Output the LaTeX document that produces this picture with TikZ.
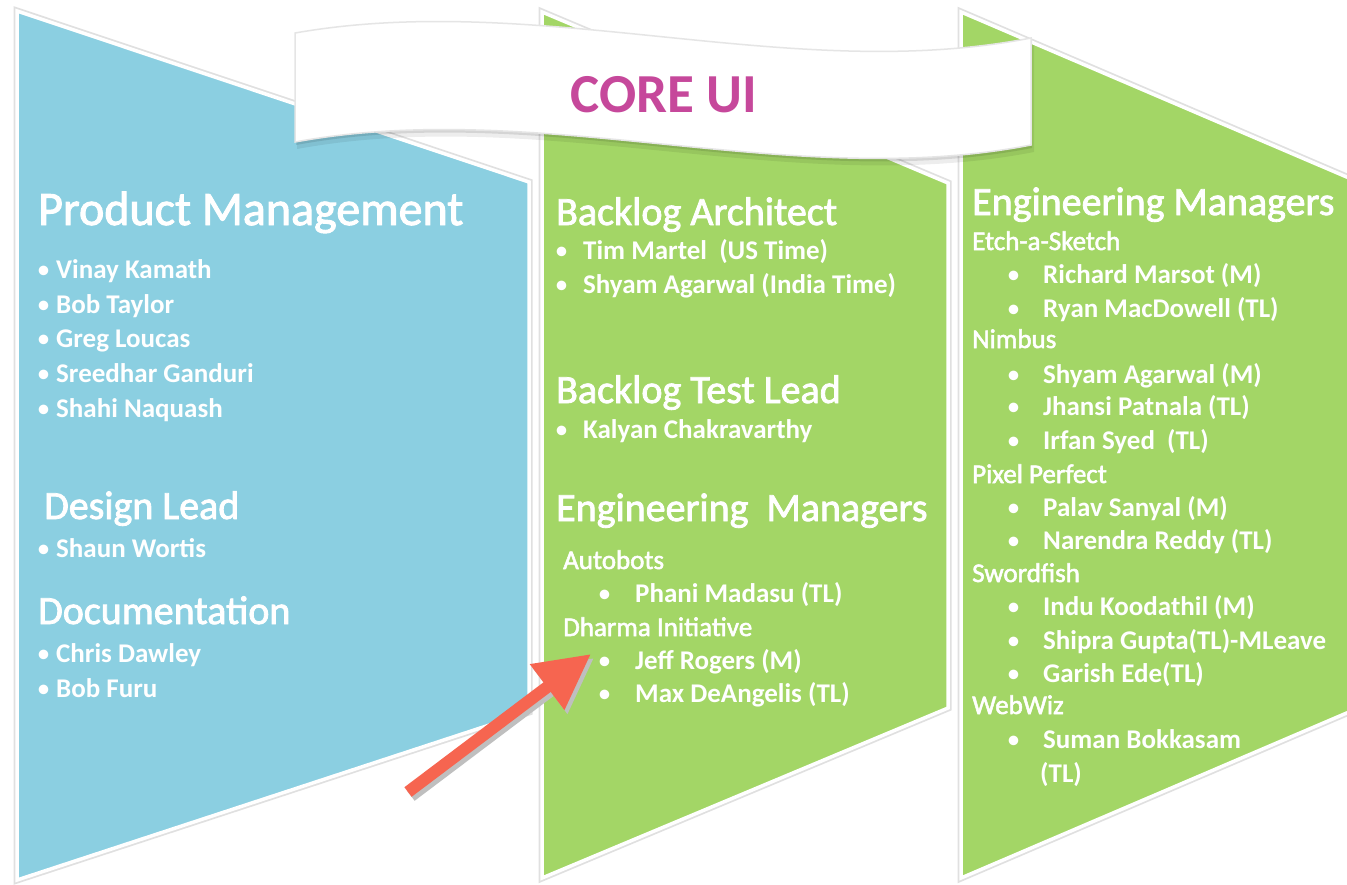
\documentclass[tikz,border=0pt]{standalone}
\usepackage{fontspec}
\setmainfont{Carlito}
\newfontface\headface{Carlito}[FakeBold=2]
\usetikzlibrary{arrows.meta}
\definecolor{panelblue}{RGB}{139,207,225}
\definecolor{panelgreen}{RGB}{163,214,102}
\definecolor{arrowred}{RGB}{246,101,80}
\definecolor{coremag}{RGB}{198,72,155}
\newcommand{\bul}[1]{\llap{{\mdseries •}\hspace{#1}}}
\begin{document}
\begin{tikzpicture}[x=1pt,y=-1pt,
  panel/.style={draw=white,line width=3.5pt,line join=miter},
  halo/.style={draw=black!12,line width=7pt,line join=miter},
  head/.style={anchor=base west,inner sep=0pt,text=white,font=\fontsize{40}{48}\headface},
  bighead/.style={head,font=\fontsize{48}{56}\headface},
  grp/.style={anchor=base west,inner sep=0pt,text=white,font=\fontsize{27}{32}\headface},
  itm/.style={anchor=base west,inner sep=0pt,text=white,font=\fontsize{27}{32}\selectfont\bfseries},
  bigarrow/.style={line width=12pt,-{Triangle[length=55pt,width=54pt]}},
]
\useasboundingbox (0,0) rectangle (1347,884);
\fill[white] (0,0) rectangle (1347,884);

% panels
\draw[halo] (17,11) -- (529,182) -- (529,712) -- (17,880) -- cycle;
\filldraw[panel,fill=panelblue] (17,11) -- (529,182) -- (529,712) -- (17,880) -- cycle;
\draw[halo] (542,12) -- (948,183) -- (948,708) -- (542,878) -- cycle;
\filldraw[panel,fill=panelgreen] (542,12) -- (948,183) -- (948,708) -- (542,878) -- cycle;
\draw[halo] (961,12) -- (1356,181) -- (1356,709) -- (961,878) -- cycle;
\filldraw[panel,fill=panelgreen] (961,12) -- (1356,181) -- (1356,709) -- (961,878) -- cycle;

% banner
\fill[black,opacity=.07] (297,40) .. controls (542,-3) and (792,92) .. (1034,45) -- (1034,152) .. controls (792,199) and (542,104) .. (297,149) -- cycle;
\fill[black,opacity=.10] (296,36) .. controls (541,-7) and (791,88) .. (1032,41) -- (1032,148) .. controls (791,195) and (541,100) .. (296,145) -- cycle;
\draw[black!10,line width=1.5pt,fill=white] (295,33) .. controls (540,-10) and (790,85) .. (1031,38) -- (1031,145) .. controls (790,192) and (540,97) .. (295,142) -- cycle;
\node[anchor=base,inner sep=0pt,text=coremag,font=\fontsize{55}{60}\selectfont\bfseries] (core) at (664,112) {CORE UI};

% left panel
\node[bighead] (pm) at (38,225) {Product Management};
\node[itm] (pm1) at (56,278) {\bul{6pt}Vinay Kamath};
\node[itm] (pm2) at (56,313) {\bul{6pt}Bob Taylor};
\node[itm] (pm3) at (56,347) {\bul{6pt}Greg Loucas};
\node[itm] (pm4) at (56,382) {\bul{6pt}Sreedhar Ganduri};
\node[itm] (pm5) at (56,417) {\bul{6pt}Shahi Naquash};
\node[head] (dl) at (44,519) {Design Lead};
\node[itm] (dl1) at (56,557) {\bul{6pt}Shaun Wortis};
\node[head] (doc) at (38,624) {Documentation};
\node[itm] (doc1) at (56,662) {\bul{6pt}Chris Dawley};
\node[itm] (doc2) at (56,697) {\bul{6pt}Bob Furu};

% middle panel
\node[head] (ba) at (556,225) {Backlog Architect};
\node[itm] (ba1) at (583,259) {\bul{15pt}Tim Martel~~(US Time)};
\node[itm] (ba2) at (583,293) {\bul{15pt}Shyam Agarwal (India Time)};
\node[head] (bt) at (556,403) {Backlog Test Lead};
\node[itm] (bt1) at (583,438) {\bul{15pt}Kalyan Chakravarthy};
\node[head] (em) at (556,521) {Engineering~~Managers};
\node[grp] (auto) at (563,569) {Autobots};
\node[itm] (auto1) at (635,602) {\bul{24pt}Phani Madasu (TL)};
\node[grp] (dh) at (563,636) {Dharma Initiative};
\node[itm] (dh1) at (635,669) {\bul{24pt}Jeff Rogers (M)};
\node[itm] (dh2) at (635,702) {\bul{24pt}Max DeAngelis (TL)};

% right panel
\node[head] (em2) at (972,215) {Engineering Managers};
\node[grp] (etch) at (972,250) {Etch-a-Sketch};
\node[itm] (etch1) at (1043,283) {\bul{23pt}Richard Marsot (M)};
\node[itm] (etch2) at (1043,317) {\bul{23pt}Ryan MacDowell (TL)};
\node[grp] (nim) at (972,348) {Nimbus};
\node[itm] (nim1) at (1043,383) {\bul{23pt}Shyam Agarwal (M)};
\node[itm] (nim2) at (1043,415) {\bul{23pt}Jhansi Patnala (TL)};
\node[itm] (nim3) at (1043,449) {\bul{23pt}Irfan Syed~~(TL)};
\node[grp] (pix) at (972,483) {Pixel Perfect};
\node[itm] (pix1) at (1043,516) {\bul{23pt}Palav Sanyal (M)};
\node[itm] (pix2) at (1043,549) {\bul{23pt}Narendra Reddy (TL)};
\node[grp] (sword) at (972,582) {Swordfish};
\node[itm] (sword1) at (1043,615) {\bul{23pt}Indu Koodathil (M)};
\node[itm] (sword2) at (1043,649) {\bul{23pt}Shipra Gupta(TL)-MLeave};
\node[itm] (sword3) at (1043,682) {\bul{23pt}Garish Ede(TL)};
\node[grp] (web) at (972,714) {WebWiz};
\node[itm] (web1) at (1043,748) {\bul{23pt}Suman Bokkasam};
\node[itm] (web2) at (1040,782) {(TL)};

% arrow
\coordinate (arrtail) at (408,792);
\coordinate (arrtip) at (591,654);
\draw[bigarrow,black!25] ([shift={(3,4)}]arrtail) -- ([shift={(3,4)}]arrtip);
\draw[bigarrow,arrowred] (arrtail) -- (arrtip);
\end{tikzpicture}
\end{document}
